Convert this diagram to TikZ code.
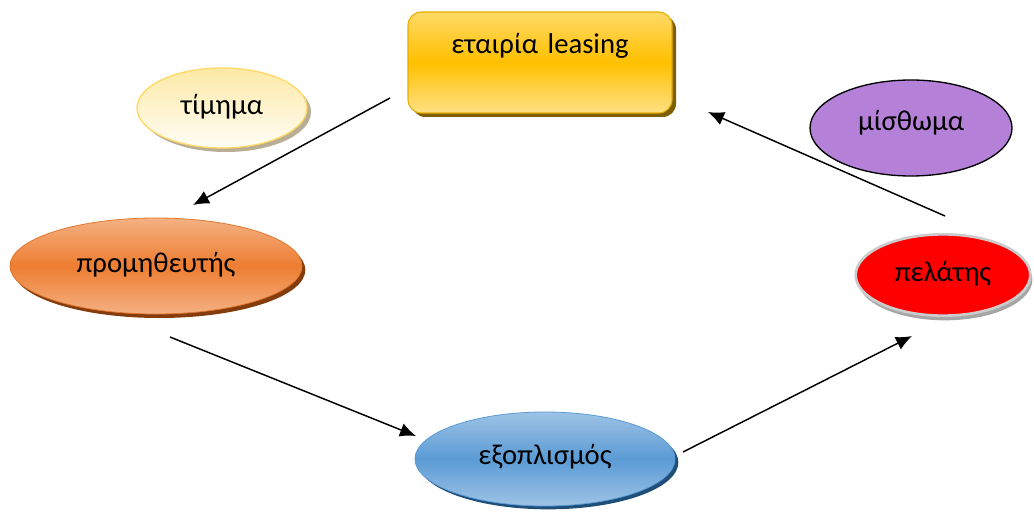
\documentclass[tikz,border=0pt]{standalone}
\usepackage{fontspec}
\setmainfont{Carlito}
\usetikzlibrary{shapes.geometric,shadows,arrows.meta}
\definecolor{goldA}{HTML}{FFD966}
\definecolor{goldB}{HTML}{FFC000}
\definecolor{goldD}{HTML}{7F6000}
\definecolor{paleA}{HTML}{FDE9A6}
\definecolor{paleB}{HTML}{FFFDF6}
\definecolor{paleS}{HTML}{B8AE96}
\definecolor{orA}{HTML}{F4B183}
\definecolor{orB}{HTML}{ED7D31}
\definecolor{orD}{HTML}{843C0C}
\definecolor{blA}{HTML}{9DC3E6}
\definecolor{blB}{HTML}{5B9BD5}
\definecolor{blD}{HTML}{1F4E79}
\definecolor{purp}{HTML}{B480D8}
\tikzset{
  lbl/.style={font=\fontsize{21.5}{24}\selectfont, text=black},
  oval/.style={ellipse, inner sep=0pt, lbl},
  conn/.style={line width=1.1pt, -{Latex[length=12pt,width=10.5pt]}},
}
\begin{document}
\begin{tikzpicture}[x=0.75pt,y=-0.75pt]
\useasboundingbox (0,0) rectangle (1034,513);
% top box
\node[lbl, rounded corners=10pt, inner sep=0pt, text width=198pt, align=center,
      text height=31pt, text depth=44.75pt, draw=goldB!90!black, line width=0.8pt,
      top color=goldA, bottom color=goldA!80, middle color=goldB,
      drop shadow={shadow xshift=3pt, shadow yshift=-3pt, fill=goldD, opacity=1}]
  (lease) at (540,62.5) {εταιρία leasing};
% timima
\node[oval, minimum width=127.5pt, minimum height=60pt, draw=goldA, line width=1pt,
      top color=paleA, bottom color=paleB, text depth=6pt,
      drop shadow={shadow xshift=3pt, shadow yshift=-3pt, fill=paleS, opacity=1}]
  (tim) at (222,108) {τίμημα};
% promitheutis
\node[oval, minimum width=219pt, minimum height=72pt, draw=orB!95!black, line width=0.6pt,
      top color=orA, bottom color=orA, middle color=orB, text depth=6pt,
      drop shadow={shadow xshift=2.5pt, shadow yshift=-3pt, fill=orD, opacity=1}]
  (prom) at (156,266) {προμηθευτής};
% exoplismos
\node[oval, minimum width=195pt, minimum height=70.5pt, draw=blB, line width=0.6pt,
      top color=blA, bottom color=blA, middle color=blB, text depth=7pt,
      drop shadow={shadow xshift=2.5pt, shadow yshift=-2.5pt, fill=blD, opacity=1}]
  (exo) at (545,459) {εξοπλισμός};
% pelatis
\node[oval, minimum width=131pt, minimum height=61pt, draw=gray!40, line width=2pt,
      fill=red, text depth=5pt,
      drop shadow={shadow xshift=1.5pt, shadow yshift=-3.5pt, fill=gray!70, opacity=1}]
  (pel) at (943,275) {πελάτης};
% misthoma
\node[oval, minimum width=151.5pt, minimum height=72pt, draw=black, line width=1pt,
      fill=purp, text depth=12pt]
  (mis) at (911,128) {μίσθωμα};
% connector ends
\coordinate (a1) at (390,98);
\coordinate (a2) at (193,205);
\coordinate (b1) at (170,337);
\coordinate (b2) at (416,436);
\coordinate (c1) at (683,452);
\coordinate (c2) at (912,336);
\coordinate (d1) at (945,216);
\coordinate (d2) at (708,112);
\draw[conn] (a1) -- (a2);
\draw[conn] (b1) -- (b2);
\draw[conn] (c1) -- (c2);
\draw[conn] (d1) -- (d2);
\end{tikzpicture}
\end{document}
